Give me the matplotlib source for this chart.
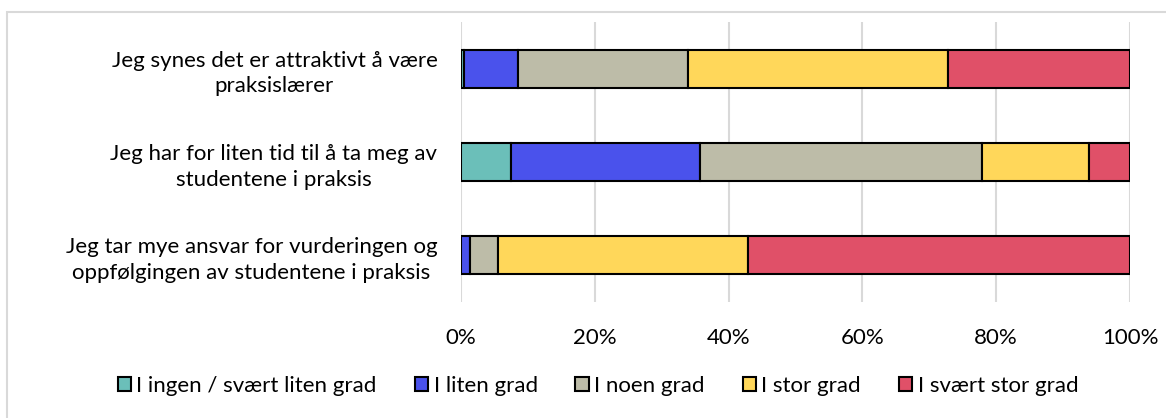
import numpy as np
import matplotlib.pyplot as plt
from matplotlib.patches import Rectangle

plt.rcParams['font.family'] = ['Lato', 'DejaVu Sans']

statements = [
    'Jeg synes det er attraktivt å være\npraksislærer',
    'Jeg har for liten tid til å ta meg av\nstudentene i praksis',
    'Jeg tar mye ansvar for vurderingen og\noppfølgingen av studentene i praksis',
]
categories = ['I ingen / svært liten grad', 'I liten grad', 'I noen grad',
              'I stor grad', 'I svært stor grad']
colors = ['#6BBFB9', '#4A52EC', '#BDBCA8', '#FFD75A', '#E05068']

# shares in percent, one list per category (order follows statements)
ingen = [0.5, 7.5, 0.0]
liten = [8.0, 28.2, 1.3]
noen = [25.4, 42.2, 4.3]
stor = [38.9, 16.0, 37.3]
svaert_stor = [27.2, 6.1, 57.1]
values = [ingen, liten, noen, stor, svaert_stor]

fig = plt.figure(figsize=(11.66, 4.18), dpi=100)
ax = fig.add_axes([461 / 1166, 1 - 302 / 418, (1130 - 461) / 1166, (302 - 22) / 418])

y = np.arange(len(statements))
left = np.zeros(len(statements))
for vals, col, name in zip(values, colors, categories):
    ax.barh(y, vals, left=left, height=0.405, color=col, edgecolor='black',
            linewidth=1.5, label=name, zorder=3)
    left += np.array(vals)

ax.set_xlim(0, 100)
ax.set_ylim(2.5, -0.5)
ax.set_yticks(y)
ax.set_yticklabels(statements, fontsize=16, ha='right', multialignment='center',
                   linespacing=1.35)
ax.tick_params(axis='y', length=0, pad=17)
ax.set_xticks(np.arange(0, 101, 20))
ax.set_xticklabels([f'{v}%' for v in range(0, 101, 20)], fontsize=16)
ax.tick_params(axis='x', length=0, pad=19)
ax.grid(axis='x', color='#D9D9D9', linewidth=1.5, zorder=0)
for s in ax.spines.values():
    s.set_visible(False)

fig.legend(loc='center', bbox_to_anchor=(598 / 1166, 1 - 386 / 418), ncol=5,
           frameon=False, fontsize=16, handlelength=0.6, handleheight=0.6,
           handletextpad=0.25, columnspacing=1.7)
for h in fig.legends[0].legend_handles:
    h.set_linewidth(1.5)

fig.add_artist(Rectangle((7 / 1166, -0.1), 1.2, 1 - 12 / 418 + 0.1,
                         transform=fig.transFigure, fill=False,
                         edgecolor='#D9D9D9', linewidth=1.5))

fig.savefig('out.png', dpi=100)
